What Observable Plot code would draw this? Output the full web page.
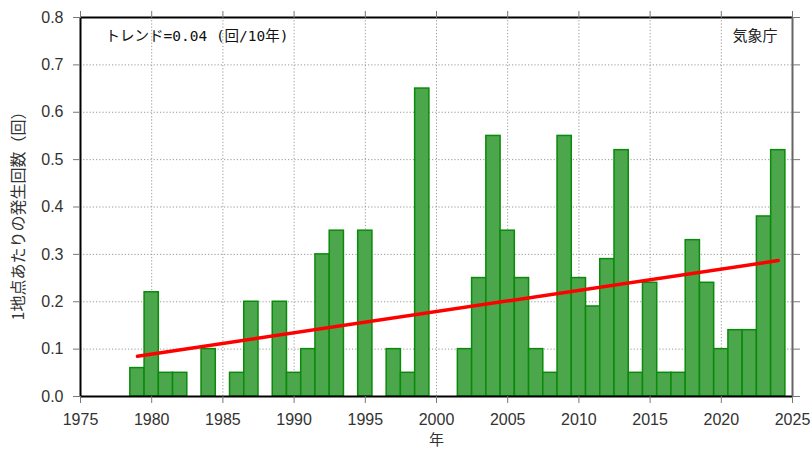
<!DOCTYPE html>
<html>
<head>
<meta charset="utf-8">
<script src="https://cdn.jsdelivr.net/npm/d3@7"></script>
<script src="https://cdn.jsdelivr.net/npm/@observablehq/plot@0.6"></script>
<style>
  html, body { margin: 0; padding: 0; background: #fff; }
</style>
</head>
<body>
<div id="chart"></div>
<script>
const years = [1979,1980,1981,1982,1983,1984,1985,1986,1987,1988,1989,1990,1991,1992,1993,1994,1995,1996,1997,1998,1999,2000,2001,2002,2003,2004,2005,2006,2007,2008,2009,2010,2011,2012,2013,2014,2015,2016,2017,2018,2019,2020,2021,2022,2023,2024];
const counts = [0.06,0.22,0.05,0.05,0,0.10,0,0.05,0.20,0,0.20,0.05,0.10,0.30,0.35,0,0.35,0,0.10,0.05,0.65,0,0,0.10,0.25,0.55,0.35,0.25,0.10,0.05,0.55,0.25,0.19,0.29,0.52,0.05,0.24,0.05,0.05,0.33,0.24,0.10,0.14,0.14,0.38,0.52];
const trendYears = [1979, 2024];
const trendValues = [0.085, 0.287];
const xTicks = [1975,1980,1985,1990,1995,2000,2005,2010,2015,2020,2025];
const yTicks = [0,0.1,0.2,0.3,0.4,0.5,0.6,0.7,0.8];
const trendLabel = "トレンド=0.04 (回/10年)";
const sourceLabel = "気象庁";
const yLabel = "1地点あたりの発生回数（回）";
const xLabel = "年";

const bars = years.map((y, i) => ({year: y, value: counts[i]})).filter(d => d.value > 0);
const trend = trendYears.map((y, i) => ({year: y, value: trendValues[i]}));

const tickColor = "#777";
const gridStyle = {stroke: "#999", strokeOpacity: 1, strokeDasharray: "1.2,2", strokeWidth: 1};

const chart = Plot.plot({
  width: 811,
  height: 451,
  marginLeft: 80,
  marginRight: 19,
  marginTop: 17,
  marginBottom: 55,
  style: {fontFamily: "'Liberation Sans', 'Noto Sans CJK JP', sans-serif", fontSize: "16px", color: "#333", background: "#fff"},
  x: {domain: [1975, 2025], type: "linear"},
  y: {domain: [0, 0.8]},
  marks: [
    Plot.gridX(xTicks, gridStyle),
    Plot.gridY(yTicks, gridStyle),
    Plot.rectY(bars, {x1: d => d.year - 0.5, x2: d => d.year + 0.5, y: "value", fill: "#4ca64c", stroke: "#0a8a0a", strokeWidth: 1.5, inset: 0}),
    Plot.line(trend, {x: "year", y: "value", stroke: "#ff0000", strokeWidth: 3.5}),
    Plot.ruleY([0, 0.8], {stroke: "#000", strokeWidth: 2}),
    Plot.ruleX([1975], {stroke: "#000", strokeWidth: 2}),
    Plot.ruleX([2025], {stroke: "#666", strokeWidth: 2}),
    Plot.axisX(xTicks, {anchor: "bottom", tickSize: 7, tickPadding: 10, tickFormat: d => String(d), stroke: tickColor, fill: "#333", label: null, fontSize: 16}),
    Plot.axisX(xTicks, {anchor: "top", tickSize: 7, tickFormat: () => "", stroke: tickColor, label: null}),
    Plot.axisY(yTicks, {anchor: "left", tickSize: 7, tickPadding: 10, tickFormat: d => d.toFixed(1), stroke: tickColor, fill: "#333", label: null, fontSize: 16}),
    Plot.axisY(yTicks, {anchor: "right", tickSize: 7, tickFormat: () => "", stroke: tickColor, label: null}),
    Plot.text([trendLabel], {frameAnchor: "top-left", dx: 25, dy: 19, text: d => d, fontFamily: "'DejaVu Sans Mono', 'Noto Sans CJK JP', monospace", fontSize: 14.5, fill: "#111", textAnchor: "start", lineAnchor: "middle"}),
    Plot.text([sourceLabel], {frameAnchor: "top-right", dx: -15, dy: 19, text: d => d, fontFamily: "'Noto Sans CJK JP', sans-serif", fontSize: 15, fill: "#222", textAnchor: "end", lineAnchor: "middle"}),
    Plot.text([yLabel], {frameAnchor: "left", dx: -62, dy: 5, rotate: -90, text: d => d, fontFamily: "'Noto Sans CJK JP', sans-serif", fontSize: 16, fill: "#333", textAnchor: "middle", lineAnchor: "middle"}),
    Plot.text([xLabel], {frameAnchor: "bottom", dy: 44, text: d => d, fontFamily: "'Noto Sans CJK JP', sans-serif", fontSize: 15, fill: "#333", lineAnchor: "middle"})
  ]
});
document.getElementById("chart").appendChild(chart);
</script>
</body>
</html>
